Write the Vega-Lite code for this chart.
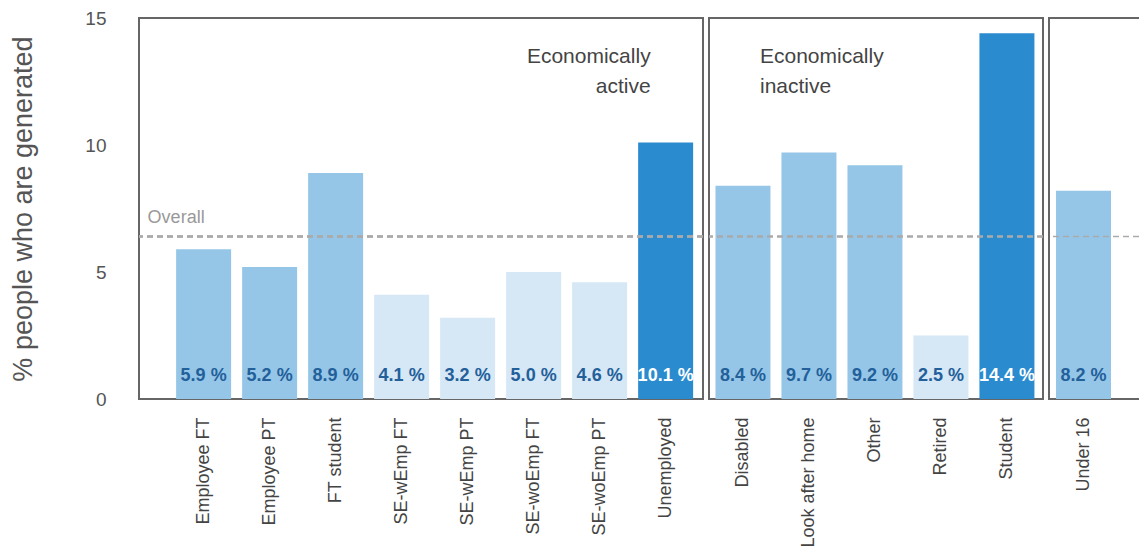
{
  "$schema": "https://vega.github.io/schema/vega-lite/v6.json",
  "padding": {"left": 8, "top": 8, "right": 0, "bottom": 0},
  "background": "white",
  "config": {
    "font": "Liberation Sans",
    "view": {"stroke": "#666", "strokeWidth": 2},
    "axis": {"grid": false, "labelFont": "Liberation Sans", "titleFont": "Liberation Sans"}
  },
  "datasets": {
    "rows": [
      {"status": "Employee FT", "group": "active", "value": 5.9, "label": "5.9 %", "level": "mid"},
      {"status": "Employee PT", "group": "active", "value": 5.2, "label": "5.2 %", "level": "mid"},
      {"status": "FT student", "group": "active", "value": 8.9, "label": "8.9 %", "level": "mid"},
      {"status": "SE-wEmp FT", "group": "active", "value": 4.1, "label": "4.1 %", "level": "low"},
      {"status": "SE-wEmp PT", "group": "active", "value": 3.2, "label": "3.2 %", "level": "low"},
      {"status": "SE-woEmp FT", "group": "active", "value": 5.0, "label": "5.0 %", "level": "low"},
      {"status": "SE-woEmp PT", "group": "active", "value": 4.6, "label": "4.6 %", "level": "low"},
      {"status": "Unemployed", "group": "active", "value": 10.1, "label": "10.1 %", "level": "high"},
      {"status": "Disabled", "group": "inactive", "value": 8.4, "label": "8.4 %", "level": "mid"},
      {"status": "Look after home", "group": "inactive", "value": 9.7, "label": "9.7 %", "level": "mid"},
      {"status": "Other", "group": "inactive", "value": 9.2, "label": "9.2 %", "level": "mid"},
      {"status": "Retired", "group": "inactive", "value": 2.5, "label": "2.5 %", "level": "low"},
      {"status": "Student", "group": "inactive", "value": 14.4, "label": "14.4 %", "level": "high"},
      {"status": "Under 16", "group": "under16", "value": 8.2, "label": "8.2 %", "level": "mid"}
    ]
  },
  "spacing": 2,
  "resolve": {"scale": {"x": "independent", "y": "independent"}},
  "hconcat": [
    {
      "width": 564,
      "height": 381,
      "data": {"name": "rows"},
      "transform": [{"filter": "datum.group === 'active'"}],
      "encoding": {
        "x": {
          "field": "status", "type": "nominal", "sort": null,
          "scale": {"paddingInner": 0.1667, "paddingOuter": 0.356, "align": 0.79},
          "axis": {"title": null, "labelAngle": -90, "labelAlign": "right", "labelBaseline": "middle", "labelFontSize": 18, "labelColor": "#444", "labelPadding": 18, "ticks": false, "domain": false}
        }
      },
      "layer": [
        {
          "mark": {"type": "bar"},
          "encoding": {
            "y": {
              "field": "value", "type": "quantitative",
              "scale": {"domain": [0, 15], "nice": false},
              "axis": {"title": "% people who are generated", "titleFontSize": 27, "titleFontWeight": "normal", "titleColor": "#555", "titlePadding": 47, "values": [0, 5, 10, 15], "labelFontSize": 19, "labelColor": "#555", "labelPadding": 33, "ticks": false, "domain": false}
            },
            "color": {
              "field": "level", "type": "nominal",
              "scale": {"domain": ["low", "mid", "high"], "range": ["#d6e7f6", "#95c6e8", "#2b8bcf"]},
              "legend": null
            }
          }
        },
        {
          "mark": {"type": "rule", "strokeDash": [6, 4], "color": "#aaa", "strokeWidth": 1.5},
          "encoding": {"y": {"datum": 6.4, "type": "quantitative"}, "x": null}
        },
        {
          "data": {"values": [{"t": "Overall"}]},
          "mark": {"type": "text", "align": "left", "baseline": "alphabetic", "fontSize": 18, "color": "#999", "dx": -56, "dy": -13},
          "encoding": {"x": {"datum": "Employee FT"}, "y": {"datum": 6.4, "type": "quantitative"}, "text": {"field": "t"}}
        },
        {
          "data": {"values": [{"t": ["Economically", "active"]}]},
          "mark": {"type": "text", "align": "right", "baseline": "top", "fontSize": 21, "color": "#444", "lineHeight": 30, "dx": -15, "dy": 28},
          "encoding": {"x": {"datum": "Unemployed"}, "y": {"datum": 15, "type": "quantitative"}, "text": {"field": "t"}}
        },
        {
          "mark": {"type": "text", "fontSize": 18, "fontWeight": "bold", "baseline": "middle"},
          "encoding": {
            "y": {"datum": 0.9, "type": "quantitative"},
            "text": {"field": "label"},
            "color": {"condition": {"test": "datum.level === 'high'", "value": "#ffffff"}, "value": "#23609a"}
          }
        }
      ]
    },
    {
      "width": 334,
      "height": 381,
      "data": {"name": "rows"},
      "transform": [{"filter": "datum.group === 'inactive'"}],
      "encoding": {
        "x": {
          "field": "status", "type": "nominal", "sort": null,
          "scale": {"paddingInner": 0.1667, "paddingOuter": 0.114, "align": 0.43},
          "axis": {"title": null, "labelAngle": -90, "labelAlign": "right", "labelBaseline": "middle", "labelFontSize": 18, "labelColor": "#444", "labelPadding": 18, "ticks": false, "domain": false}
        }
      },
      "layer": [
        {
          "mark": {"type": "bar"},
          "encoding": {
            "y": {"field": "value", "type": "quantitative", "scale": {"domain": [0, 15], "nice": false}, "axis": null},
            "color": {
              "field": "level", "type": "nominal",
              "scale": {"domain": ["low", "mid", "high"], "range": ["#d6e7f6", "#95c6e8", "#2b8bcf"]},
              "legend": null
            }
          }
        },
        {
          "mark": {"type": "rule", "strokeDash": [6, 4], "color": "#aaa", "strokeWidth": 1.5},
          "encoding": {"y": {"datum": 6.4, "type": "quantitative"}, "x": null}
        },
        {
          "data": {"values": [{"t": ["Economically", "inactive"]}]},
          "mark": {"type": "text", "align": "left", "baseline": "top", "fontSize": 21, "color": "#444", "lineHeight": 30, "dx": 17, "dy": 28},
          "encoding": {"x": {"datum": "Disabled"}, "y": {"datum": 15, "type": "quantitative"}, "text": {"field": "t"}}
        },
        {
          "mark": {"type": "text", "fontSize": 18, "fontWeight": "bold", "baseline": "middle"},
          "encoding": {
            "y": {"datum": 0.9, "type": "quantitative"},
            "text": {"field": "label"},
            "color": {"condition": {"test": "datum.level === 'high'", "value": "#ffffff"}, "value": "#23609a"}
          }
        }
      ]
    },
    {
      "width": 100,
      "height": 381,
      "data": {"name": "rows"},
      "transform": [{"filter": "datum.group === 'under16'"}],
      "encoding": {
        "x": {
          "field": "status", "type": "nominal", "sort": null,
          "scale": {"paddingInner": 0.1667, "paddingOuter": 0.341, "align": 0.156},
          "axis": {"title": null, "labelAngle": -90, "labelAlign": "right", "labelBaseline": "middle", "labelFontSize": 18, "labelColor": "#444", "labelPadding": 18, "ticks": false, "domain": false}
        }
      },
      "layer": [
        {
          "mark": {"type": "bar"},
          "encoding": {
            "y": {"field": "value", "type": "quantitative", "scale": {"domain": [0, 15], "nice": false}, "axis": null},
            "color": {
              "field": "level", "type": "nominal",
              "scale": {"domain": ["low", "mid", "high"], "range": ["#d6e7f6", "#95c6e8", "#2b8bcf"]},
              "legend": null
            }
          }
        },
        {
          "mark": {"type": "rule", "strokeDash": [6, 4], "color": "#aaa", "strokeWidth": 1.5},
          "encoding": {"y": {"datum": 6.4, "type": "quantitative"}, "x": null}
        },
        {
          "mark": {"type": "text", "fontSize": 18, "fontWeight": "bold", "baseline": "middle"},
          "encoding": {
            "y": {"datum": 0.9, "type": "quantitative"},
            "text": {"field": "label"},
            "color": {"condition": {"test": "datum.level === 'high'", "value": "#ffffff"}, "value": "#23609a"}
          }
        }
      ]
    }
  ]
}
